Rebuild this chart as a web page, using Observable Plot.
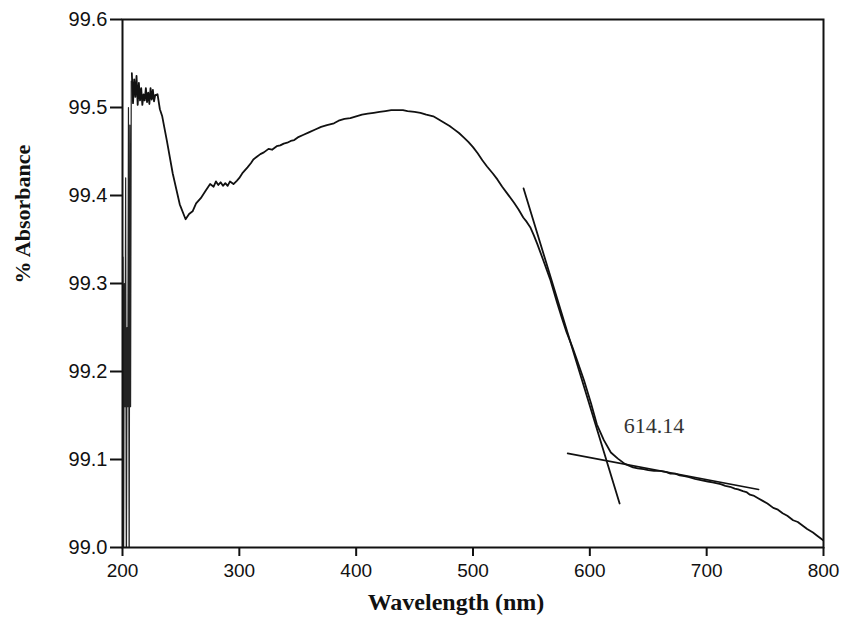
<!DOCTYPE html>
<html>
<head>
<meta charset="utf-8">
<script src="https://cdn.jsdelivr.net/npm/d3@7"></script>
<script src="https://cdn.jsdelivr.net/npm/@observablehq/plot@0.6"></script>
<style>
  html, body { margin: 0; padding: 0; background: #fff; }
  #chart svg { display: block; }
</style>
</head>
<body>
<div id="chart"></div>
<script>
// Noisy start of the spectrum (spikes near 200 nm)
const spikeWavelength = [200.4, 200.9, 201.5, 202.1, 202.7, 203.3, 203.9, 204.5, 205.1, 205.7, 206.3, 206.9, 207.5];
const spikeAbsorbance = [99.33, 98.95, 99.30, 99.16, 99.42, 98.95, 99.25, 99.16, 99.50, 98.95, 99.48, 99.16, 99.53];

// Main absorbance curve
const wavelength = [208, 209, 210, 211, 212, 213, 214, 215, 216, 217, 218, 219, 220, 221, 222, 223, 224, 225, 226, 227, 228, 230, 232, 234, 238, 243, 249, 254, 257, 260, 263, 267, 271, 275, 278, 280, 282, 284, 286, 288, 290, 292, 295, 298, 300, 303, 307, 310, 312, 315, 318, 321, 325, 328, 332, 335, 338, 341, 344, 347, 350, 355, 360, 365, 370, 375, 381, 385, 390, 395, 400, 405, 410, 415, 420, 425, 430, 435, 440, 444, 450, 455, 460, 466, 470, 475, 480, 483, 488, 492, 496, 500, 504, 508, 512, 517, 521, 525, 530, 535, 539, 543, 546, 549, 552, 555, 560, 566, 572, 576, 580, 585, 589, 595, 601, 606, 612, 618, 624, 630, 637, 641, 646, 650, 655, 660, 665, 669, 673, 677, 681, 685, 690, 697, 701, 705, 709, 712, 716, 720, 724, 727, 731, 734, 737, 740, 744, 748, 752, 757, 761, 765, 769, 774, 778, 782, 786, 791, 794, 796, 798, 800];
const absorbance = [99.539, 99.505, 99.532, 99.512, 99.536, 99.503, 99.528, 99.508, 99.522, 99.503, 99.515, 99.508, 99.522, 99.506, 99.517, 99.504, 99.522, 99.509, 99.520, 99.507, 99.514, 99.515, 99.498, 99.490, 99.462, 99.425, 99.390, 99.373, 99.379, 99.382, 99.391, 99.397, 99.405, 99.413, 99.410, 99.416, 99.412, 99.415, 99.411, 99.414, 99.411, 99.416, 99.413, 99.417, 99.420, 99.426, 99.432, 99.437, 99.441, 99.444, 99.447, 99.449, 99.453, 99.452, 99.456, 99.457, 99.459, 99.460, 99.462, 99.463, 99.466, 99.469, 99.472, 99.475, 99.478, 99.480, 99.482, 99.485, 99.487, 99.488, 99.490, 99.492, 99.493, 99.494, 99.495, 99.496, 99.497, 99.497, 99.497, 99.496, 99.495, 99.494, 99.492, 99.490, 99.487, 99.483, 99.479, 99.476, 99.471, 99.466, 99.461, 99.455, 99.448, 99.440, 99.433, 99.425, 99.418, 99.410, 99.401, 99.392, 99.384, 99.375, 99.370, 99.364, 99.355, 99.345, 99.327, 99.305, 99.278, 99.261, 99.245, 99.228, 99.213, 99.190, 99.164, 99.140, 99.122, 99.108, 99.101, 99.095, 99.091, 99.090, 99.089, 99.088, 99.087, 99.087, 99.086, 99.084, 99.084, 99.082, 99.081, 99.080, 99.078, 99.076, 99.075, 99.074, 99.073, 99.072, 99.070, 99.069, 99.067, 99.066, 99.064, 99.063, 99.060, 99.059, 99.056, 99.053, 99.050, 99.045, 99.043, 99.039, 99.036, 99.031, 99.029, 99.025, 99.021, 99.017, 99.014, 99.012, 99.010, 99.008];

// Tangent lines used to find the band edge
const tangentSteepX = [543.3, 625.5];
const tangentSteepY = [99.408, 99.050];
const tangentFlatX = [581, 744.5];
const tangentFlatY = [99.107, 99.066];

// Annotation and ticks
const edgeLabel = "614.14";
const edgeLabelX = 629;
const edgeLabelY = 99.13;
const xTicks = [200, 300, 400, 500, 600, 700, 800];
const yTicks = [99.0, 99.1, 99.2, 99.3, 99.4, 99.5, 99.6];
const xTitle = "Wavelength (nm)";
const yTitle = "% Absorbance";

const spikes = spikeWavelength.map((w, i) => ({w, a: spikeAbsorbance[i]}));
const curve = wavelength.map((w, i) => ({w, a: absorbance[i]}));
const tSteep = tangentSteepX.map((w, i) => ({w, a: tangentSteepY[i]}));
const tFlat = tangentFlatX.map((w, i) => ({w, a: tangentFlatY[i]}));

const chart = Plot.plot({
  width: 846,
  height: 629,
  marginLeft: 122,
  marginRight: 23,
  marginTop: 19,
  marginBottom: 82,
  style: {fontFamily: "'Liberation Sans', Arial, sans-serif", fontSize: "19px", color: "#111", background: "#fff"},
  x: {domain: [200, 800], label: null},
  y: {domain: [99.0, 99.6], label: null},
  marks: [
    Plot.line(spikes, {x: "w", y: "a", stroke: "#222", strokeWidth: 1.2, clip: true}),
    Plot.line(curve, {x: "w", y: "a", stroke: "#111", strokeWidth: 1.8, clip: true}),
    Plot.line(tSteep, {x: "w", y: "a", stroke: "#111", strokeWidth: 1.8}),
    Plot.line(tFlat, {x: "w", y: "a", stroke: "#111", strokeWidth: 1.6}),
    Plot.text([edgeLabel], {x: edgeLabelX, y: edgeLabelY, text: d => d, textAnchor: "start", lineAnchor: "bottom", fontFamily: "'Liberation Serif', 'Times New Roman', serif", fontSize: 22, fill: "#333"}),
    Plot.frame({stroke: "#111", strokeWidth: 2}),
    Plot.axisX({ticks: xTicks, tickSize: 9, tickPadding: 7, strokeWidth: 2, tickFormat: d => String(d), fontSize: 19, fill: "#111"}),
    Plot.axisY({ticks: yTicks, tickSize: 12, tickPadding: 3, strokeWidth: 2, tickFormat: d => d.toFixed(1), fontSize: 20, fill: "#111"}),
    Plot.text([xTitle], {frameAnchor: "bottom", dy: 62, dx: -17, text: d => d, fontFamily: "'Liberation Serif', 'Times New Roman', serif", fontWeight: "bold", fontSize: 24, fill: "#111"}),
    Plot.text([yTitle], {frameAnchor: "left", dx: -100, rotate: -90, text: d => d, fontFamily: "'Liberation Serif', 'Times New Roman', serif", fontWeight: "bold", fontSize: 22, fill: "#111"})
  ]
});
document.getElementById("chart").appendChild(chart);
</script>
</body>
</html>
